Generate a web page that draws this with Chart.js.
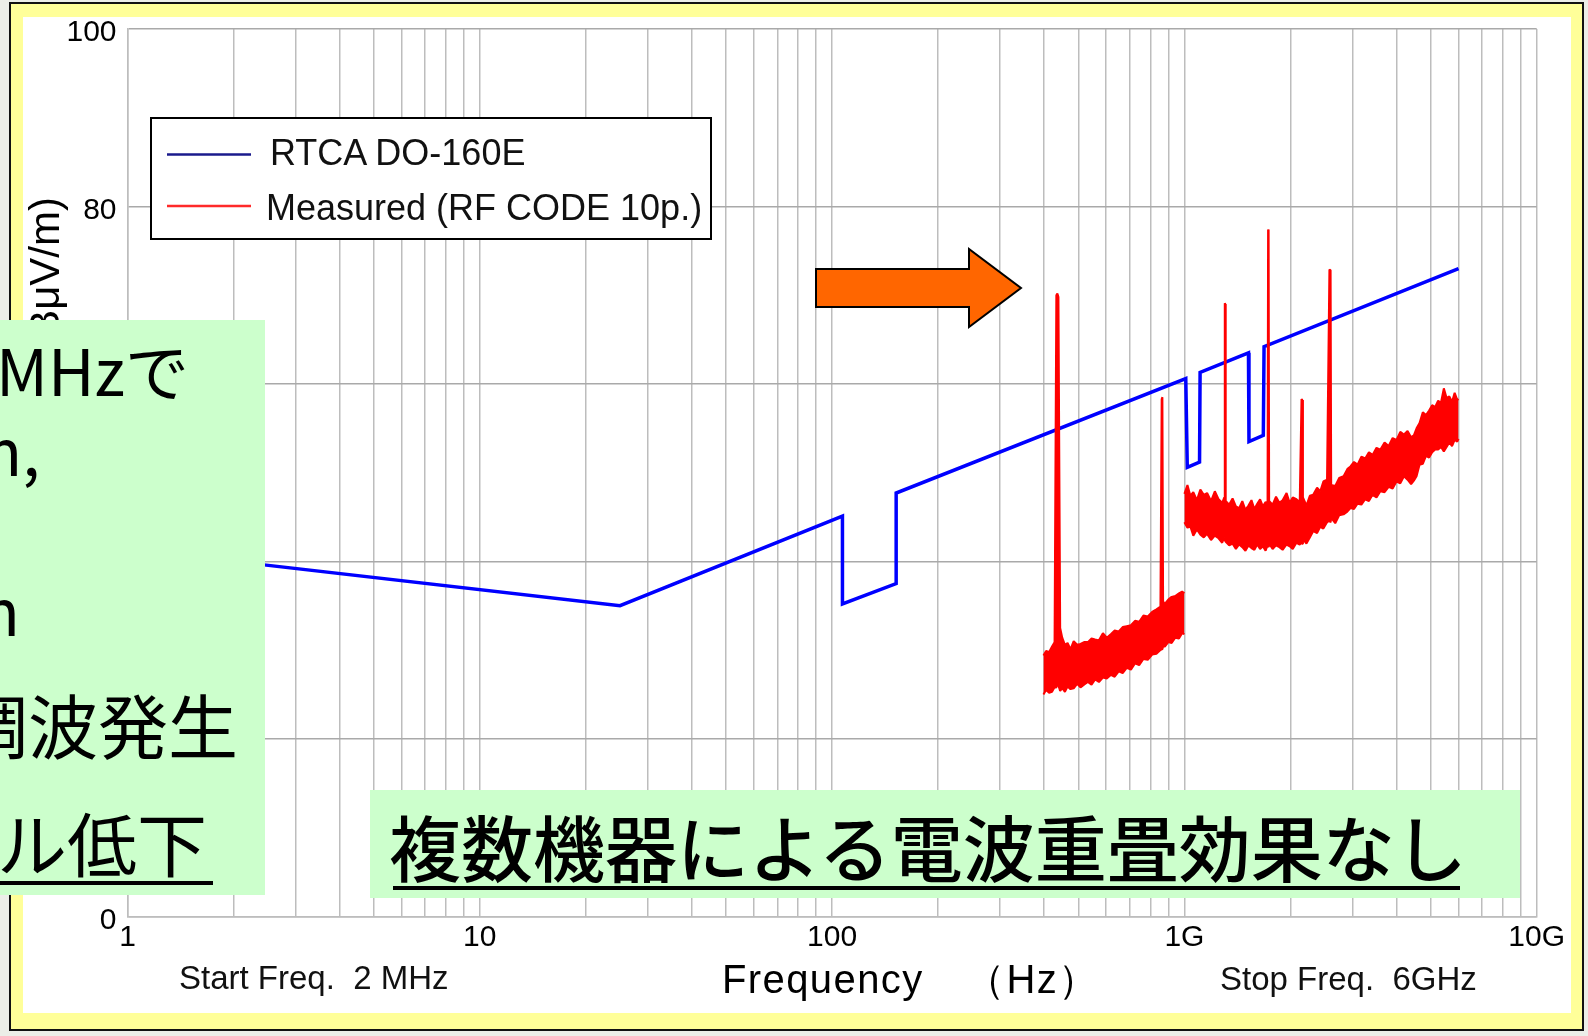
<!DOCTYPE html>
<html lang="ja">
<head>
<meta charset="UTF-8">
<title>RTCA DO-160E 放射エミッション測定</title>
<script src="https://cdn.jsdelivr.net/npm/chart.js"></script>
<style>
    html, body { margin: 0; padding: 0; }
    body {
        width: 1588px;
        height: 1036px;
        position: relative;
        overflow: hidden;
        background: #eceee8;
        font-family: "Liberation Sans", Arial, sans-serif;
    }
    .frame {
        position: absolute;
        left: 9px; top: 2px;
        width: 1575px; height: 1029px;
        box-sizing: border-box;
        border: 2px solid #111;
        background: #ffff99;
    }
    .panel {
        position: absolute;
        left: 23px; top: 17px;
        width: 1548px; height: 996px;
        background: #fff;
    }
    #chart, #overlay { position: absolute; left: 0; top: 0; }
    .jp { font-family: "Noto Sans CJK JP", sans-serif; }
    .jp.strong { font-weight: 500; }
</style>
</head>
<body>
<div class="frame"></div>
<div class="panel"></div>
<canvas id="chart" width="1588" height="1036"></canvas>

<svg id="overlay" width="1588" height="1036" viewBox="0 0 1588 1036"
     font-family="Liberation Sans, Arial, sans-serif" fill="#000">
    <!-- axis captions -->
    <text x="44" y="197" transform="rotate(-90 44 197)" text-anchor="end"
          dominant-baseline="central" font-size="42">(dBμV/m)</text>
    <text x="179" y="989" font-size="33" fill="#111" style="white-space:pre">Start Freq.  2 MHz</text>
    <text x="1220" y="990" font-size="33" fill="#111" style="white-space:pre">Stop Freq.  6GHz</text>
    <text x="722" y="993" font-size="40" letter-spacing="1.4">Frequency　（Hz）</text>

    <!-- legend -->
    <rect x="151" y="118" width="560" height="121" fill="#fff" stroke="#000" stroke-width="2"/>
    <line x1="167" y1="154.5" x2="251" y2="154.5" stroke="#1a1a8c" stroke-width="2.5"/>
    <line x1="167" y1="206" x2="251" y2="206" stroke="#ff2a2a" stroke-width="2.5"/>
    <text x="270" y="165" font-size="36" fill="#111">RTCA DO-160E</text>
    <text x="266" y="220" font-size="36" fill="#111">Measured (RF CODE 10p.)</text>

    <!-- arrow -->
    <polygon points="816,269 969,269 969,249 1021,288 969,327 969,307 816,307"
             fill="#ff6600" stroke="#000" stroke-width="2" stroke-linejoin="miter"/>

    <!-- notes -->
    <rect x="0" y="320" width="265" height="575" fill="#ccffcc"/>
    <g class="jp" text-anchor="end">
        <text x="189" y="396" font-size="64">MHzで</text>
        <text x="40" y="476" font-size="64">m,</text>
        <text x="20" y="636" font-size="64">m</text>
        <text x="238" y="754" font-size="70">調波発生</text>
        <text x="207" y="872" font-size="70">ベル低下</text>
    </g>
    <rect x="0" y="881" width="213" height="4"/>

    <rect x="370" y="790" width="1150" height="108" fill="#ccffcc"/>
    <text class="jp strong" x="389" y="876" font-size="72">複数機器による電波重畳効果なし</text>
    <rect x="393" y="886" width="1067" height="4"/>
</svg>

<script>
// RTCA DO-160E limit line (MHz, dBμV/m)
const limitFreq = [2, 25, 107, 107, 152, 152, 1009, 1019, 1104, 1108, 1520, 1525, 1675, 1683, 6000];
const limitLevel = [40.0, 35.0, 45.1, 35.2, 37.5, 47.7, 60.6, 50.6, 51.2, 61.3, 63.5, 53.5, 54.2, 64.2, 73.0];

// measured trace, 400 MHz - 1 GHz (upper / lower edge of the noise band)
const band1Freq = [398, 405, 413, 421, 428, 433, 436, 439, 444, 450, 458, 466, 475, 485, 496, 507,
    519, 532, 545, 558, 572, 587, 602, 618, 634, 651, 668, 686, 705, 724, 744, 765, 787, 810,
    833, 855, 862, 866, 870, 880, 900, 920, 942, 965, 985, 1000];
const band1Top = [29.4, 29.9, 29.8, 30.4, 30.9, 70.0, 70.2, 69.8, 32.5, 31.4, 30.6, 30.8, 30.1, 31.0, 30.6, 30.7,
    30.9, 30.9, 31.3, 31.2, 31.1, 31.9, 31.4, 31.8, 32.2, 32.1, 32.6, 32.7, 32.8, 33.3, 33.2, 33.9, 33.8, 34.3,
    34.6, 34.9, 58.3, 58.5, 35.5, 35.2, 35.7, 36.0, 36.1, 36.4, 36.6, 36.4];
const band1Bottom = [25.0, 25.5, 25.2, 25.3, 25.8, 25.8, 26.2, 26.0, 25.4, 25.7, 25.3, 25.9, 25.6, 25.7, 26.2, 25.8,
    26.1, 26.4, 26.1, 26.7, 26.4, 26.9, 26.8, 27.2, 27.0, 27.6, 27.4, 28.0, 27.8, 28.5, 28.3, 29.0, 28.9, 29.5,
    29.6, 30.0, 30.1, 30.1, 30.4, 30.4, 30.9, 30.8, 31.4, 31.3, 31.9, 31.8];

// measured trace, 1 GHz - 6 GHz
const band2Freq = [1000, 1020, 1040, 1060, 1085, 1110, 1135, 1160, 1190, 1220, 1250, 1280, 1298, 1302, 1306, 1310,
    1340, 1370, 1400, 1430, 1460, 1490, 1520, 1550, 1580, 1610, 1640, 1670, 1700, 1722, 1728, 1734,
    1740, 1780, 1820, 1860, 1900, 1950, 1990, 2030, 2080, 2125, 2150, 2160, 2170, 2220, 2270, 2320,
    2380, 2430, 2480, 2540, 2580, 2600, 2610, 2680, 2750, 2830, 2900, 2960, 3030, 3100, 3180, 3260,
    3340, 3420, 3510, 3600, 3700, 3800, 3900, 4000, 4100, 4200, 4300, 4400, 4480, 4560, 4650, 4750,
    4850, 4950, 5050, 5150, 5250, 5350, 5450, 5550, 5650, 5750, 5850, 5950, 6000];
const band2Top = [47.6, 48.6, 47.4, 47.8, 46.9, 48.1, 47.5, 47.7, 46.8, 47.9, 47.0, 46.6, 47.2, 69.1, 69.0, 46.8,
    46.4, 47.1, 46.2, 46.0, 46.8, 45.8, 46.3, 46.9, 45.9, 46.5, 47.0, 46.2, 46.7, 46.5, 77.4, 77.2,
    46.8, 46.4, 47.3, 46.6, 46.9, 47.7, 46.6, 47.2, 47.0, 46.7, 58.3, 58.2, 47.2, 46.3, 47.4, 47.5,
    48.3, 47.9, 49.0, 49.2, 72.9, 72.8, 48.6, 48.5, 49.4, 49.6, 50.4, 50.7, 51.2, 50.9, 51.8, 51.6,
    52.3, 52.0, 52.8, 52.6, 53.4, 53.0, 53.9, 53.7, 54.6, 54.3, 54.7, 54.0, 54.2, 55.0, 55.6, 56.8,
    56.5, 57.0, 57.6, 57.4, 58.1, 57.9, 59.5, 58.4, 58.6, 58.0, 59.0, 58.2, 58.3];
const band2Bottom = [44.4, 43.8, 43.9, 42.9, 43.6, 43.0, 42.7, 43.1, 42.4, 42.9, 42.6, 42.1, 42.7, 42.4, 42.3, 42.2,
    41.8, 42.0, 41.4, 41.9, 41.6, 41.2, 41.8, 41.5, 41.3, 41.9, 41.4, 41.7, 41.2, 41.8, 41.7, 41.6,
    42.0, 41.4, 41.8, 41.6, 41.3, 41.9, 41.7, 41.4, 42.1, 41.9, 42.1, 42.0, 42.5, 42.0, 42.7, 43.4,
    43.2, 43.9, 43.7, 44.4, 44.6, 44.4, 44.9, 44.3, 45.2, 45.3, 45.6, 46.0, 45.9, 46.5, 46.4, 47.0,
    46.8, 47.5, 47.2, 47.9, 47.8, 48.4, 48.2, 49.0, 48.8, 49.6, 49.2, 48.7, 49.1, 49.6, 50.9, 51.0,
    51.9, 51.7, 52.3, 52.6, 52.6, 52.9, 52.4, 52.9, 53.4, 53.0, 53.7, 53.5, 53.8];

// axis ticks
const freqDecades = [1, 10, 100, 1000, 10000];
const decadeLabels = ['1', '10', '100', '1G', '10G'];
const levelTicks = [0, 20, 40, 60, 80, 100];

const toPoints = (xs, ys) => xs.map((x, i) => ({ x: x, y: ys[i] }));

Chart.defaults.font.family = "'Liberation Sans', Arial, sans-serif";
Chart.defaults.color = '#000';

const redBand = {
    borderColor: '#ff0000',
    backgroundColor: '#ff0000',
    borderWidth: 2,
    borderJoinStyle: 'bevel',
    pointRadius: 0,
    order: 0
};

new Chart(document.getElementById('chart'), {
    type: 'line',
    data: {
        datasets: [
            Object.assign({ label: 'Measured (RF CODE 10p.)', data: toPoints(band1Freq, band1Top), fill: false }, redBand),
            Object.assign({ label: 'Measured lower', data: toPoints(band1Freq, band1Bottom), fill: '-1' }, redBand),
            Object.assign({ label: 'Measured 2', data: toPoints(band2Freq, band2Top), fill: false }, redBand),
            Object.assign({ label: 'Measured 2 lower', data: toPoints(band2Freq, band2Bottom), fill: '-1' }, redBand),
            {
                label: 'RTCA DO-160E',
                data: toPoints(limitFreq, limitLevel),
                borderColor: '#0000ff',
                borderWidth: 3.5,
                pointRadius: 0,
                fill: false,
                order: 1
            }
        ]
    },
    options: {
        responsive: false,
        animation: false,
        devicePixelRatio: 1,
        layout: { padding: { left: 0, top: 25, right: 51.3, bottom: 0 } },
        elements: { line: { tension: 0 } },
        plugins: {
            legend: { display: false },
            tooltip: { enabled: false }
        },
        scales: {
            x: {
                type: 'logarithmic',
                min: 1,
                max: 10000,
                afterBuildTicks: (scale) => {
                    const t = [];
                    for (let d = 1; d < 10000; d *= 10) {
                        for (let m = 1; m < 10; m++) t.push({ value: d * m });
                    }
                    t.push({ value: 10000 });
                    scale.ticks = t;
                },
                afterFit: (scale) => { scale.height = 1036 - 916.3; },
                grid: { color: '#bdbdbd', lineWidth: 1.5, drawTicks: false },
                border: { color: '#bdbdbd', width: 1.5 },
                ticks: {
                    autoSkip: false,
                    maxRotation: 0,
                    padding: 3,
                    font: { size: 30 },
                    callback: (v) => {
                        const i = freqDecades.indexOf(v);
                        return i >= 0 ? decadeLabels[i] : '';
                    }
                }
            },
            y: {
                min: 0,
                max: 100,
                afterBuildTicks: (scale) => { scale.ticks = levelTicks.map(v => ({ value: v })); },
                afterFit: (scale) => { scale.width = 127.5; },
                grid: { color: '#a9a9a9', lineWidth: 1.5, drawTicks: false },
                border: { color: '#bdbdbd', width: 1.5 },
                ticks: { padding: 11, labelOffset: 4, font: { size: 30 } }
            }
        }
    }
});
</script>
</body>
</html>
